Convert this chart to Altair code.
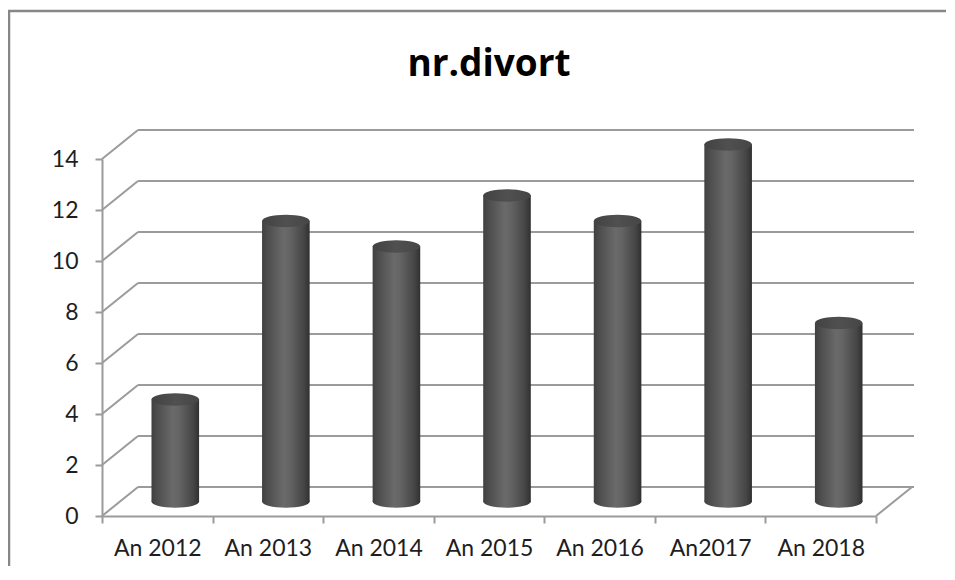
import altair as alt
import pandas as pd

# ---- data ----
categories = ["An 2012", "An 2013", "An 2014", "An 2015", "An 2016", "An2017", "An 2018"]
values = [4, 11, 10, 12, 11, 14, 7]
grid_values = [0, 2, 4, 6, 8, 10, 12, 14]
title_text = "nr.divort"

# ---- layout / style constants ----
W, H = 774, 357
DX, DY = 36, -29          # depth offset of the back wall
CYL_W = 47.6
GRAY = "#9b9b9b"
FONT = "Lato"
TXT = "#1e1e1e"
PAD_R = 70

bars = pd.DataFrame({"cat": categories, "v": values, "v0": [0] * len(values)})
grid = pd.DataFrame({"v": grid_values})
floor = pd.DataFrame({"v": [0]})
one = pd.DataFrame({"k": [0]})

yscale = alt.Scale(domain=[0, 14], nice=False, zero=True)
yaxis = alt.Axis(
    title=None, values=grid_values, grid=False,
    domainColor=GRAY, domainWidth=2, tickColor=GRAY, tickWidth=2, tickSize=7,
    labelFont=FONT, labelFontSize=23, labelColor=TXT, labelPadding=17,
)
Y = alt.Y("v:Q", scale=yscale, axis=yaxis)
Y0 = alt.Y("v0:Q", scale=yscale, axis=yaxis)

xscale = alt.Scale(domain=categories, paddingInner=0, paddingOuter=0)
xaxis = alt.Axis(
    title=None, labelAngle=0, tickBand="extent",
    domainColor=GRAY, domainWidth=2, tickColor=GRAY, tickWidth=2, tickSize=7,
    labelFont=FONT, labelFontSize=23, labelColor=TXT, labelPadding=14,
)
X = alt.X("cat:N", sort=categories, scale=xscale, axis=xaxis)

body_grad = alt.Gradient(
    gradient="linear", x1=0, x2=1, y1=0, y2=0,
    stops=[
        alt.GradientStop(offset=0, color="#404040"),
        alt.GradientStop(offset=0.12, color="#4d4d4d"),
        alt.GradientStop(offset=0.45, color="#6a6a6a"),
        alt.GradientStop(offset=0.58, color="#646464"),
        alt.GradientStop(offset=0.88, color="#454545"),
        alt.GradientStop(offset=1, color="#303030"),
    ],
)
top_grad = alt.Gradient(
    gradient="linear", x1=0, x2=1, y1=0, y2=0,
    stops=[
        alt.GradientStop(offset=0, color="#424242"),
        alt.GradientStop(offset=0.5, color="#505050"),
        alt.GradientStop(offset=1, color="#464646"),
    ],
)
ELL = "M-1,0 A1,0.26 0 1,1 1,0 A1,0.26 0 1,1 -1,0 Z"

# back wall horizontal gridlines
back = alt.Chart(grid).mark_rule(color=GRAY, strokeWidth=2, yOffset=DY).encode(
    x=alt.value(DX), x2=alt.value(W + DX + 2), y=Y
)
# left side-wall diagonals
side = alt.Chart(grid).mark_rule(color=GRAY, strokeWidth=2, y2Offset=DY).encode(
    x=alt.value(0), x2=alt.value(DX), y=Y, y2=alt.Y2("v")
)
# floor right edge
floor_r = alt.Chart(floor).mark_rule(color=GRAY, strokeWidth=2, y2Offset=DY).encode(
    x=alt.value(W), x2=alt.value(W + DX), y=Y, y2=alt.Y2("v")
)

bottom_ell = alt.Chart(bars).mark_point(
    shape=ELL, size=CYL_W ** 2, filled=True, fill=body_grad, strokeWidth=0,
    opacity=1, xOffset=DX / 2, yOffset=DY / 2,
).encode(x=X, y=Y0)
body = alt.Chart(bars).mark_bar(
    width=CYL_W, fill=body_grad, xOffset=DX / 2, yOffset=DY / 2, y2Offset=DY / 2,
).encode(x=X, y=Y)
top_ell = alt.Chart(bars).mark_point(
    shape=ELL, size=CYL_W ** 2, filled=True, fill=top_grad, strokeWidth=0,
    opacity=1, xOffset=DX / 2, yOffset=DY / 2,
).encode(x=X, y=Y)

# outer chart border: only its top and left edges fall inside the picture
border = alt.Chart(one).mark_rect(
    fillOpacity=0, stroke="#878787", strokeWidth=2.5
).encode(
    x=alt.value(-93), x2=alt.value(W + PAD_R + 30),
    y=alt.value(-148), y2=alt.value(H + 90),
)

chart = alt.layer(
    back, side, floor_r, bottom_ell, body, top_ell, border
).properties(
    width=W, height=H,
    background="white",
    title=alt.TitleParams(
        title_text, font="Open Sans", fontSize=37, fontWeight="bold", color="black",
        anchor="middle", frame="group", baseline="alphabetic", offset=-103,
    ),
    autosize=alt.AutoSizeParams(type="none"),
    padding={"left": 94, "top": 151, "right": PAD_R, "bottom": 50},
).configure_view(strokeWidth=0)

chart.save("out.html", embed_options={"renderer": "svg", "actions": False})
